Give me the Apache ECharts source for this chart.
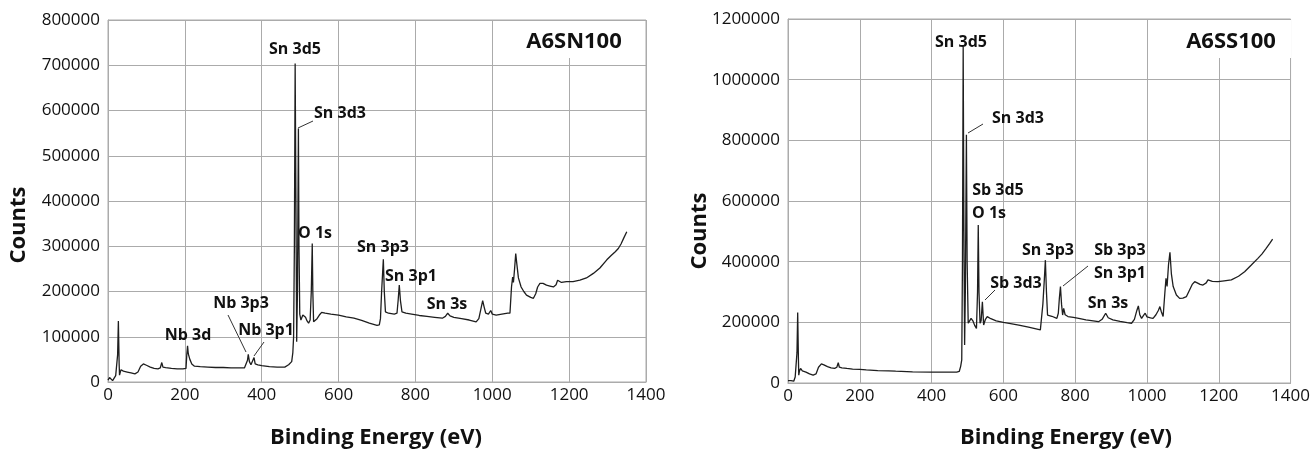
<!DOCTYPE html>
<html>
<head>
<meta charset="utf-8">
<script src="https://cdn.jsdelivr.net/npm/echarts@6/dist/echarts.min.js"></script>
<style>
html,body{margin:0;padding:0;background:#fff;}
#c{width:1313px;height:450px;}
</style>
</head>
<body>
<div id="c"></div>
<script>
// ---- Data ----
const xTicks = [0, 200, 400, 600, 800, 1000, 1200, 1400];

const energySN = [0,4,8,12,16,20,23,25,27,29,30,32,34,40,50,60,70,78,85,92,100,110,120,130,136,140,143,150,165,180,195,203,205,207,209,211,213,218,225,240,260,280,300,320,340,355,360,363,365,368,372,376,380,383,390,400,420,440,460,470,474,478,481,483,485,487,489,491,493,495.5,497,499,502,507,510,514,518,522,526,529,531.5,533,535,538,544,550,556,565,580,600,620,640,660,680,700,706,709,712,716.5,719,722,730,745,752,755,758,761,765,775,790,810,830,850,870,878,884,890,900,920,940,958,965,970,975,979,983,990,996,1000,1010,1025,1040,1046,1050,1053,1055,1058,1061,1064,1068,1075,1082,1089,1100,1107,1113,1118,1124,1132,1141,1150,1159,1166,1170,1174,1180,1193,1210,1228,1245,1263,1280,1298,1310,1320,1328,1335,1342,1350];
const countsSN = [4000,10000,6000,3000,5000,14000,12000,60000,135000,40000,15000,22000,27000,24000,22000,20000,18000,22000,35000,40000,37000,33000,30000,29000,31000,43000,33000,32000,30000,29000,29000,30000,60000,80000,62000,66000,50000,40000,35000,34000,33000,32000,32000,31000,31000,31000,33000,48000,61000,45000,38000,40000,54000,40000,38000,36000,34000,33000,33000,38000,42000,45000,65000,100000,300000,704000,400000,89000,200000,560000,300000,150000,137000,148000,152000,143000,135000,130000,137000,200000,306000,200000,133000,130000,140000,148000,154000,152000,150000,148000,144000,141000,136000,130000,125000,126000,140000,200000,271000,200000,155000,152000,150000,152000,180000,214000,180000,155000,152000,150000,147000,145000,143000,141000,145000,152000,146000,143000,140000,137000,133000,140000,160000,180000,165000,152000,150000,158000,150000,148000,150000,152000,152000,210000,232000,220000,250000,284000,260000,230000,210000,200000,192000,187000,185000,195000,210000,218000,218000,214000,212000,210000,215000,225000,222000,220000,222000,222000,225000,230000,240000,252000,270000,280000,288000,295000,305000,318000,332000];

const energySS = [0,4,8,12,16,20,23,25,27,29,30,32,35,40,50,60,70,78,85,93,100,110,120,130,136,140,143,150,164,180,200,218,250,280,300,347,400,440,470,477,481,484,486,488,490,492,494,497,499,502,506,510,515,520,525,528,530,532,535,538,541.5,545,550,555,565,580,600,620,643,670,703,707,710,714,717,720,723,735,749,753,756,759,762,765,768,772,780,795,810,830,850,865,875,885,892,905,925,945,957,965,972,976,980,985,990,995,1000,1010,1017,1025,1032,1036,1040,1045,1050,1053,1056,1060,1064,1068,1073,1082,1091,1100,1110,1118,1126,1133,1140,1148,1156,1165,1170,1175,1182,1198,1215,1235,1255,1272,1290,1309,1320,1332,1342,1350];
const countsSS = [8000,12000,8000,4000,6000,20000,20000,100000,232000,80000,26000,40000,48000,40000,36000,30000,26000,30000,52000,63000,60000,54000,50000,48000,52000,67000,52000,50000,48000,46000,45000,43000,41000,40000,39000,37000,36000,36000,36000,38000,55000,76000,400000,1110000,500000,125000,300000,818000,400000,197000,205000,213000,205000,190000,180000,300000,521000,300000,197000,205000,268000,191000,210000,219000,212000,205000,200000,196000,191000,184000,175000,180000,260000,340000,405000,300000,224000,220000,213000,230000,280000,318000,260000,224000,246000,225000,219000,216000,213000,208000,205000,202000,210000,230000,215000,208000,203000,199000,197000,210000,240000,254000,225000,213000,222000,230000,218000,215000,213000,225000,240000,252000,235000,219000,300000,345000,318000,390000,431000,360000,318000,290000,279000,280000,285000,305000,325000,334000,330000,325000,323000,330000,340000,340000,335000,334000,337000,340000,352000,367000,388000,411000,425000,444000,460000,474000];

const yTicksSN = [0,100000,200000,300000,400000,500000,600000,700000,800000];
const yTicksSS = [0,200000,400000,600000,800000,1000000,1200000];

const peakLabelsSN = ["Sn 3d5","Sn 3d3","O 1s","Sn 3p3","Sn 3p1","Sn 3s","Nb 3d","Nb 3p3","Nb 3p1"];
const peakLabelsSS = ["Sn 3d5","Sn 3d3","Sb 3d5","O 1s","Sb 3d3","Sn 3p3","Sb 3p3","Sn 3p1","Sn 3s"];
const sampleNames = ["A6SN100","A6SS100"];
const axisTitleX = "Binding Energy (eV)";
const axisTitleY = "Counts";

// ---- Styling / layout ----
const FONT = "'Open Sans', 'DejaVu Sans', sans-serif";
const TXT = '#111';
const GRID = '#ababab';

const pairs = (xs, ys) => xs.map((x, i) => [x, ys[i]]);
const plain = v => String(v);

function xAxisOf(idx) {
  return {
    type: 'value', gridIndex: idx, min: xTicks[0], max: xTicks[xTicks.length - 1], interval: 200,
    axisLine: { show: true, lineStyle: { color: GRID, width: 1 } },
    axisTick: { show: false },
    splitLine: { show: true, lineStyle: { color: GRID, width: 1 } },
    axisLabel: { color: TXT, fontFamily: FONT, fontSize: 17, margin: 5, formatter: plain }
  };
}
function yAxisOf(idx, ticks) {
  return {
    type: 'value', gridIndex: idx, min: ticks[0], max: ticks[ticks.length - 1], interval: ticks[1] - ticks[0],
    axisLine: { show: true, lineStyle: { color: GRID, width: 1 } },
    axisTick: { show: false },
    splitLine: { show: true, lineStyle: { color: GRID, width: 1 } },
    axisLabel: { color: TXT, fontFamily: FONT, fontSize: 17, margin: 8, formatter: plain }
  };
}

function txt(s, x, y, size, align) {
  return { type: 'text', z: 20, x: x, y: y,
    style: { text: s, fill: TXT, font: 'bold ' + size + 'px ' + FONT, textAlign: align || 'center', textVerticalAlign: 'middle' } };
}
function lead(x1, y1, x2, y2) {
  return { type: 'line', z: 20, shape: { x1: x1, y1: y1, x2: x2, y2: y2 }, style: { stroke: '#333', lineWidth: 1 } };
}

const graphics = [
  { type: 'rect', z: 10, shape: { x: 512, y: 21, width: 132, height: 37 }, style: { fill: '#fff' } },
  { type: 'rect', z: 10, shape: { x: 1176, y: 20, width: 115, height: 38 }, style: { fill: '#fff' } },
  txt(sampleNames[0], 574, 42, 22),
  txt(sampleNames[1], 1231, 42, 22),
  txt(peakLabelsSN[0], 295, 49, 16),
  txt(peakLabelsSN[1], 340, 113, 16),
  txt(peakLabelsSN[2], 315, 233, 16),
  txt(peakLabelsSN[3], 383, 247, 16),
  txt(peakLabelsSN[4], 411, 276, 16),
  txt(peakLabelsSN[5], 447, 304, 16),
  txt(peakLabelsSN[6], 188, 335, 16),
  txt(peakLabelsSN[7], 241, 303, 16),
  txt(peakLabelsSN[8], 266, 330, 16),
  lead(298, 128, 313, 121),
  lead(228, 315, 246, 352),
  lead(264, 342, 254, 356),
  txt(peakLabelsSS[0], 961, 42, 16),
  txt(peakLabelsSS[1], 1018, 118, 16),
  txt(peakLabelsSS[2], 998, 190, 16),
  txt(peakLabelsSS[3], 989, 213, 16),
  txt(peakLabelsSS[4], 1016, 283, 16),
  txt(peakLabelsSS[5], 1048, 250, 16),
  txt(peakLabelsSS[6], 1120, 250, 16),
  txt(peakLabelsSS[7], 1120, 273, 16),
  txt(peakLabelsSS[8], 1108, 303, 16),
  lead(968, 133, 983, 124),
  lead(985, 300, 995, 290),
  lead(1063, 286, 1088, 266),
  txt(axisTitleX, 376, 438, 22),
  txt(axisTitleX, 1066, 438, 22),
  { type: 'text', z: 20, x: 19, y: 225, rotation: Math.PI / 2,
    style: { text: axisTitleY, fill: TXT, font: 'bold 22px ' + FONT, textAlign: 'center', textVerticalAlign: 'middle' } },
  { type: 'text', z: 20, x: 700, y: 231, rotation: Math.PI / 2,
    style: { text: axisTitleY, fill: TXT, font: 'bold 22px ' + FONT, textAlign: 'center', textVerticalAlign: 'middle' } }
];

const chart = echarts.init(document.getElementById('c'), null, { renderer: 'canvas' });
chart.setOption({
  animation: false,
  backgroundColor: '#fff',
  grid: [
    { left: 108, top: 20, width: 538, height: 362, show: true, borderColor: GRID, borderWidth: 1, containLabel: false },
    { left: 788, top: 19, width: 505, height: 364, show: true, borderColor: GRID, borderWidth: 1, containLabel: false }
  ],
  xAxis: [xAxisOf(0), xAxisOf(1)],
  yAxis: [yAxisOf(0, yTicksSN), yAxisOf(1, yTicksSS)],
  series: [
    { type: 'line', xAxisIndex: 0, yAxisIndex: 0, data: pairs(energySN, countsSN), showSymbol: false, z: 5,
      lineStyle: { color: '#1e1e1e', width: 1.3 }, sampling: null },
    { type: 'line', xAxisIndex: 1, yAxisIndex: 1, data: pairs(energySS, countsSS), showSymbol: false, z: 5,
      lineStyle: { color: '#1e1e1e', width: 1.3 }, sampling: null }
  ],
  graphic: graphics
});
</script>
</body>
</html>
